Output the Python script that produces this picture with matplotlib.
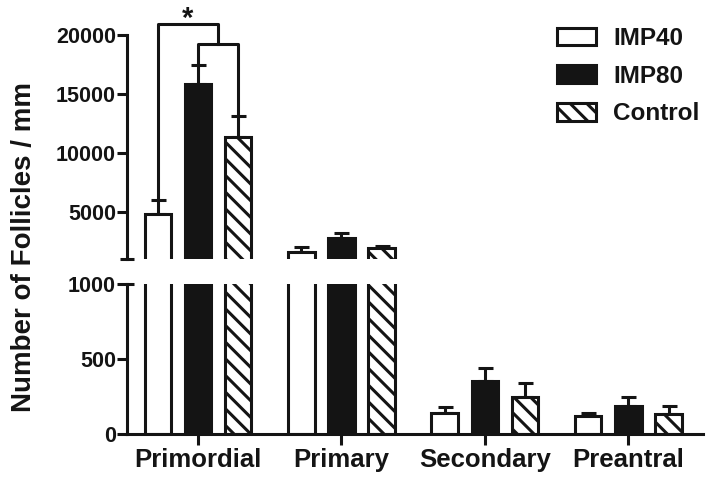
import numpy as np
import matplotlib
matplotlib.use("Agg")
import matplotlib.pyplot as plt

plt.rcParams['font.family'] = ['Liberation Sans', 'DejaVu Sans']
plt.rcParams['font.weight'] = 'bold'
plt.rcParams['hatch.linewidth'] = 2.2

# follicle counts per stage (mean and upper SEM)
stages = ["Primordial", "Primary", "Secondary", "Preantral"]
groups = ["IMP40", "IMP80", "Control"]
imp40 = [4800, 1620, 140, 122]
imp80 = [15850, 2750, 353, 188]
control = [11350, 1900, 247, 135]
imp40_err = [1200, 400, 40, 18]
imp80_err = [1600, 430, 90, 57]
control_err = [1800, 200, 93, 52]

lower_ticks = [0, 500, 1000]
upper_ticks = [5000, 10000, 15000, 20000]

ink = '#141414'
lw = 2.2
width = 0.185
offset = 0.28
x = np.arange(len(stages))

fig = plt.figure(figsize=(7.09, 4.79), dpi=100)
ax_top = fig.add_axes([0.1791, 0.4593, 0.8124, 0.4676])
ax_bot = fig.add_axes([0.1791, 0.0939, 0.8124, 0.3132])

series = [
    (imp40, imp40_err, dict(facecolor='white', hatch=None)),
    (imp80, imp80_err, dict(facecolor=ink, hatch=None)),
    (control, control_err, dict(facecolor='white', hatch='\\\\')),
]

for ax in (ax_top, ax_bot):
    for i, (vals, errs, style) in enumerate(series):
        xs = x + (i - 1) * offset
        ax.bar(xs, vals, width=width, edgecolor=ink, linewidth=lw,
               label=groups[i], zorder=2, **style)
        ax.errorbar(xs, vals, yerr=[np.zeros(len(errs)), errs], fmt='none',
                    ecolor=ink, elinewidth=lw, capsize=5.4, capthick=lw,
                    zorder=1)
    ax.set_xlim(-0.495, 3.52)
    for s in ('top', 'right'):
        ax.spines[s].set_visible(False)
    ax.spines['left'].set_linewidth(lw)
    ax.spines['left'].set_color(ink)
    ax.tick_params(axis='y', width=lw, length=7, color=ink, labelsize=15.5,
                   pad=1, labelcolor=ink)

ax_top.set_ylim(1000, 20000)
ax_top.set_yticks(upper_ticks)
ax_top.spines['bottom'].set_visible(False)
ax_top.tick_params(axis='x', bottom=False, labelbottom=False)

ax_bot.set_ylim(0, 1000)
ax_bot.set_yticks(lower_ticks)
ax_bot.set_xticks(x)
ax_bot.set_xticklabels(stages)
ax_bot.spines['bottom'].set_linewidth(lw)
ax_bot.spines['bottom'].set_color(ink)
ax_bot.tick_params(axis='x', width=lw, length=8, color=ink, labelsize=18.5,
                   pad=2, labelcolor=ink)

# caps marking the axis break
ax_top.plot([-0.012, 0.012], [1000, 1000], color=ink, lw=lw, clip_on=False,
            transform=ax_top.get_yaxis_transform(), solid_capstyle='butt')
ax_bot.plot([0, 0.012], [1000, 1000], color=ink, lw=lw, clip_on=False,
            transform=ax_bot.get_yaxis_transform(), solid_capstyle='butt')

# significance bracket: IMP40 vs (IMP80, Control)
x40 = x[0] - offset
x80 = x[0]
xc = x[0] + offset
xmid = (x80 + xc) / 2
outer_y = 20950
inner_y = 19250
bk = dict(color=ink, lw=lw, clip_on=False, zorder=3)
ax_top.plot([x40, x40, xmid, xmid],
            [imp40[0] + imp40_err[0] + 250, outer_y, outer_y, inner_y], **bk)
ax_top.plot([x80, x80, xc, xc],
            [imp80[0] + imp80_err[0] + 150, inner_y, inner_y,
             control[0] + control_err[0] + 250], **bk)
ax_top.text((x40 + xmid) / 2, 20680, '*', ha='center', va='baseline',
            fontsize=21, color=ink, clip_on=False)

fig.text(0.034, 0.485, 'Number of Follicles / mm', rotation=90, ha='center',
         va='center', fontsize=20, color=ink)

leg = ax_top.legend(loc='upper left', bbox_to_anchor=(557 / 709, 1 - 27 / 479),
                    bbox_transform=fig.transFigure, frameon=False, fontsize=17.5,
                    borderpad=0, handlelength=1.6, handleheight=0.75,
                    handletextpad=0.7, labelspacing=0.6, borderaxespad=0)
for t in leg.get_texts():
    t.set_color(ink)

fig.savefig('out.png', dpi=100, facecolor='white')
